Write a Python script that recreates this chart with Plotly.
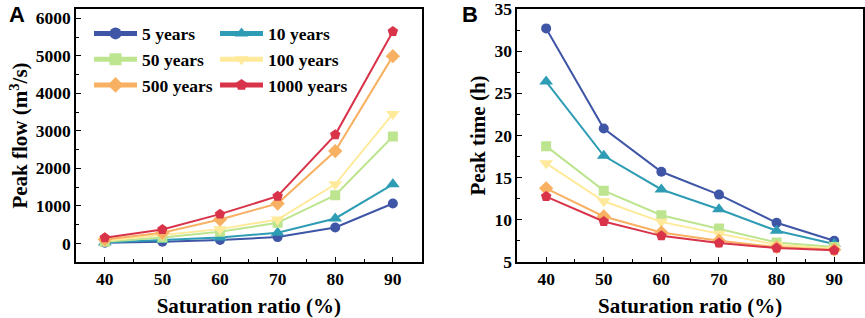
import plotly.graph_objects as go
from plotly.subplots import make_subplots

saturation = [40, 50, 60, 70, 80, 90]
series_names = ["5 years", "10 years", "50 years", "100 years", "500 years", "1000 years"]

peak_flow_5 = [18, 44, 90, 168, 425, 1062]
peak_flow_10 = [27, 88, 160, 283, 664, 1575]
peak_flow_50 = [44, 160, 310, 549, 1283, 2850]
peak_flow_100 = [70, 221, 380, 637, 1575, 3451]
peak_flow_500 = [106, 283, 637, 1062, 2460, 4991]
peak_flow_1000 = [150, 372, 779, 1257, 2894, 5646]

peak_time_5 = [32.7, 20.83, 15.7, 12.99, 9.65, 7.52]
peak_time_10 = [26.4, 17.6, 13.6, 11.26, 8.7, 7.13]
peak_time_50 = [18.74, 13.46, 10.55, 8.98, 7.32, 6.77]
peak_time_100 = [16.7, 12.2, 9.76, 8.35, 7.05, 6.6]
peak_time_500 = [13.74, 10.4, 8.5, 7.52, 6.77, 6.46]
peak_time_1000 = [12.76, 9.8, 8.1, 7.24, 6.65, 6.38]

flow_ticks = [0, 1000, 2000, 3000, 4000, 5000, 6000]
time_ticks = [5, 10, 15, 20, 25, 30, 35]

flows = [peak_flow_5, peak_flow_10, peak_flow_50, peak_flow_100, peak_flow_500, peak_flow_1000]
times = [peak_time_5, peak_time_10, peak_time_50, peak_time_100, peak_time_500, peak_time_1000]

colors = ["#3F55A6", "#2E9CB4", "#BDE48F", "#FEEA9A", "#F8B163", "#D9334A"]
symbols = ["circle", "triangle-up", "square", "triangle-down", "diamond", "pentagon"]
sizes = [10, 12, 10, 12, 11, 11]
legends = ["legend", "legend2", "legend", "legend2", "legend", "legend2"]

SERIF = "Liberation Serif, Times New Roman, serif"

fig = make_subplots(rows=1, cols=2, horizontal_spacing=0.1216)

for i, name in enumerate(series_names):
    fig.add_trace(go.Scatter(
        x=saturation, y=flows[i], name=name, mode="lines+markers",
        line=dict(color=colors[i], width=2),
        marker=dict(color=colors[i], symbol=symbols[i], size=sizes[i]),
        legend=legends[i],
    ), row=1, col=1)
for i, name in enumerate(series_names):
    fig.add_trace(go.Scatter(
        x=saturation, y=times[i], name=name, mode="lines+markers",
        line=dict(color=colors[i], width=2),
        marker=dict(color=colors[i], symbol=symbols[i], size=sizes[i]),
        showlegend=False,
    ), row=1, col=2)

tickfont = dict(family=SERIF, size=17.5, color="black", weight="bold")
titlefont = dict(family=SERIF, size=21, color="black", weight="bold")

axis_common = dict(
    showline=True, linecolor="black", linewidth=1.5, mirror=True,
    ticks="inside", ticklen=5, tickwidth=1.2, tickcolor="black",
    showgrid=False, zeroline=False, tickfont=tickfont,
    ticklabeloverflow="allow", automargin=False,
)

fig.update_xaxes(**axis_common, range=[35, 95], tickvals=saturation,
                 ticktext=[str(v) for v in saturation],
                 minor=dict(ticks="inside", ticklen=3, tickwidth=1, dtick=5, tick0=35),
                 title=dict(text="Saturation ratio (%)", font=titlefont, standoff=11))

fig.update_yaxes(**axis_common, row=1, col=1, range=[-496, 6247],
                 tickvals=flow_ticks, ticktext=[str(v) for v in flow_ticks],
                 minor=dict(ticks="inside", ticklen=3, tickwidth=1, dtick=500, tick0=0),
                 title=dict(text="Peak flow (m<sup>3</sup>/s)", font=titlefont, standoff=2))
fig.update_yaxes(**axis_common, row=1, col=2, range=[5, 35],
                 tickvals=time_ticks, ticktext=[str(v) for v in time_ticks],
                 minor=dict(ticks="inside", ticklen=3, tickwidth=1, dtick=2.5, tick0=5),
                 title=dict(text="Peak time (h)", font=titlefont, standoff=3))

legend_font = dict(family=SERIF, size=17.5, color="black", weight="bold")
TOP = 9
W = 865 - 76 - 2
H = 318 - TOP - 56
fig.update_layout(
    width=865, height=318,
    margin=dict(l=76, r=2, t=TOP, b=56, autoexpand=False),
    plot_bgcolor="white", paper_bgcolor="white",
    legend=dict(x=(89 - 76) / W, y=1 - 6.5 / H, xanchor="left", yanchor="top", font=legend_font,
                bgcolor="rgba(0,0,0,0)", itemwidth=43, tracegroupgap=0,
                itemsizing="constant"),
    legend2=dict(x=(215 - 76) / W, y=1 - 6.5 / H, xanchor="left", yanchor="top", font=legend_font,
                 bgcolor="rgba(0,0,0,0)", itemwidth=43, tracegroupgap=0,
                 itemsizing="constant"),
)

label_font = dict(family="Liberation Sans, Arial, sans-serif", size=22, color="black", weight="bold")
fig.add_annotation(text="A", xref="paper", yref="paper", x=(17 - 76) / W, y=1 - (15 - TOP) / H,
                   xanchor="center", yanchor="middle", showarrow=False, font=label_font)
fig.add_annotation(text="B", xref="paper", yref="paper", x=(470 - 76) / W, y=1 - (15 - TOP) / H,
                   xanchor="center", yanchor="middle", showarrow=False, font=label_font)

fig.write_html("out.html", config={"displayModeBar": False},
               post_script="document.body.style.margin='0';")
